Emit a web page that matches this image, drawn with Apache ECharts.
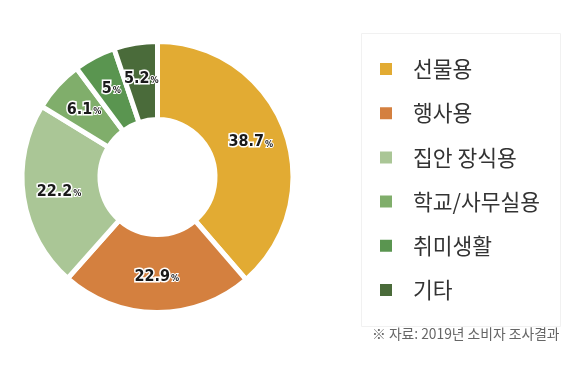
<!DOCTYPE html>
<html><head><meta charset="utf-8">
<script src="https://cdn.jsdelivr.net/npm/echarts@6/dist/echarts.min.js"></script>
<style>html,body{margin:0;padding:0;background:#fff}#c{width:586px;height:375px}</style>
</head><body><div id="c"></div>
<script>
const categories = ['선물용', '행사용', '집안 장식용', '학교/사무실용', '취미생활', '기타'];
const values = [38.7, 22.9, 22.2, 6.1, 5, 5.2];
const colors = ['#E2AB33', '#D4803F', '#AAC696', '#80AE6B', '#5A9550', '#4A6B3A'];
const sourceNote = '※ 자료: 2019년 소비자 조사결과';

const chart = echarts.init(document.getElementById('c'));
const lblFont = '"DejaVu Sans Condensed", "DejaVu Sans", sans-serif';
chart.setOption({
  animation: false,
  color: colors,
  graphic: [
    { type: 'rect', shape: { x: 361.5, y: 33.5, width: 199, height: 293 },
      style: { fill: 'none', stroke: '#f1f1f1', lineWidth: 1 } },
    { type: 'text', left: 372, top: 327,
      style: { text: sourceNote, fill: '#666', font: '13.8px "Noto Sans CJK KR"' } }
  ],
  legend: {
    orient: 'vertical', left: 373, top: 53,
    itemWidth: 14, itemHeight: 14, itemGap: 22.2,
    icon: 'rect',
    textStyle: { fontFamily: 'Noto Sans CJK KR', fontSize: 21.5, color: '#333', lineHeight: 22, padding: [0, 0, 0, 15] },
    data: categories
  },
  series: [{
    type: 'pie',
    center: [157.5, 177],
    radius: [57.5, 135.5],
    startAngle: 90,
    clockwise: true,
    itemStyle: { borderColor: '#fff', borderWidth: 5 },
    label: {
      position: 'inside',
      formatter: p => '{n|' + p.value + '}{p|%}',
      rich: {
        n: { fontFamily: lblFont, fontWeight: 'bold', fontSize: 16, color: '#1a1a1a', textBorderColor: '#fff', textBorderWidth: 3 },
        p: { fontFamily: lblFont, fontWeight: 'bold', fontSize: 9, color: '#1a1a1a', textBorderColor: '#fff', textBorderWidth: 2, padding: [4, 0, 0, 1] }
      }
    },
    labelLine: { show: false },
    emphasis: { disabled: true },
    data: categories.map((c, i) => ({ name: c, value: values[i] }))
  }]
});
</script></body></html>
